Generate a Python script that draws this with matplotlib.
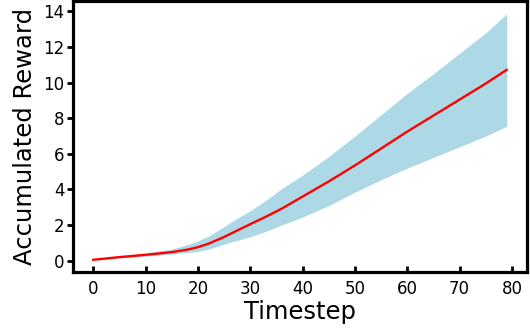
import matplotlib
matplotlib.use("Agg")
import matplotlib.pyplot as plt

steps = [0, 5, 10, 15, 18, 20, 22, 25, 27, 30, 33, 36, 40, 45, 50, 55, 60, 65, 70, 75, 79]
mean_reward = [0.05, 0.2, 0.33, 0.48, 0.62, 0.76, 0.95, 1.33, 1.62, 2.05, 2.47, 2.92, 3.6, 4.45, 5.35, 6.3, 7.25, 8.15, 9.05, 9.95, 10.72]
upper = [0.05, 0.22, 0.43, 0.65, 0.9, 1.11, 1.38, 1.91, 2.3, 2.8, 3.4, 4.05, 4.8, 5.85, 7.0, 8.2, 9.4, 10.5, 11.65, 12.8, 13.87]
lower = [0.05, 0.15, 0.24, 0.37, 0.46, 0.52, 0.65, 0.93, 1.1, 1.35, 1.65, 2.0, 2.45, 3.1, 3.85, 4.55, 5.2, 5.8, 6.4, 7.0, 7.55]

fig = plt.figure(figsize=(5.3, 3.31), dpi=100)
ax = fig.add_axes([0.137, 0.178, 0.858, 0.8175])

ax.fill_between(steps, lower, upper, color="lightblue", linewidth=0)
ax.plot(steps, mean_reward, color="red", linewidth=1.7)

ax.set_xlabel("Timestep", fontsize=17.5, labelpad=1)
ax.set_ylabel("Accumulated Reward", fontsize=17.5, labelpad=4)
ax.set_xticks(range(0, 81, 10))
ax.set_yticks(range(0, 15, 2))

for s in ax.spines.values():
    s.set_linewidth(2.3)
ax.tick_params(axis="x", direction="in", length=4, width=2, labelsize=12, pad=6)
ax.tick_params(axis="y", direction="out", length=4, width=2, labelsize=12, pad=2)

fig.savefig("out.png", dpi=100)
